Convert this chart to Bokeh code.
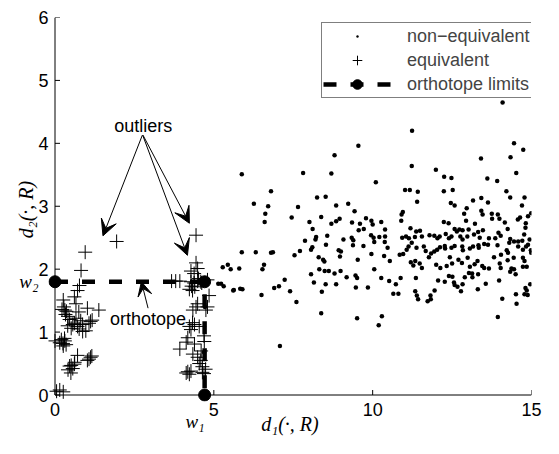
from bokeh.plotting import figure
from bokeh.models import (Range1d, FixedTicker, Label, Arrow, VeeHead, Legend, LegendItem, LinearAxis)
from bokeh.embed import file_html
from bokeh.resources import INLINE

# ---------------- data ----------------
w1 = 4.71
w2 = 1.80

noneq_high = [(14.09,4.65),(11.24,4.20),(9.55,3.96),(14.45,4.00),(14.74,3.90),(8.80,3.81),(13.41,3.76),(14.34,3.78),
    (11.23,3.64),(11.99,3.58),(5.88,3.51),(7.81,3.53),(8.70,3.52),(14.52,3.53),(12.25,3.47),(12.48,3.45),(13.61,3.44),
    (13.92,3.40),(10.10,3.38),(6.80,3.24),(11.02,3.26),(11.17,3.26),(11.42,3.23),(12.24,3.24),(12.52,3.26),(14.21,3.24),
    (8.25,3.14),(8.52,3.15),(14.33,3.14),(14.78,3.14),(13.42,3.13),(13.16,3.09),(13.63,3.06),(11.40,3.07),(12.46,3.05),
    (12.58,3.01),(14.70,3.01),(6.26,3.04),(6.71,3.00),(7.65,2.99),(8.85,3.01),(9.23,3.04)]

noneq_upper = [(9.43,2.92),(6.62,2.88),(6.60,2.75),(7.45,2.82),(8.38,2.83),(10.95,2.91),(10.91,2.87),(12.96,2.97),
    (12.88,2.88),(13.42,2.93),(13.46,2.87),(13.75,2.88),(13.94,2.87),(13.99,2.80),(14.99,2.89),(14.89,2.84),(8.96,2.80),
    (8.85,2.76),(8.70,2.72),(9.35,2.74),(9.60,2.72),(9.79,2.81),(9.96,2.77),(10.00,2.71),(10.27,2.75),(10.90,2.77),
    (12.24,2.75),(12.39,2.73),(12.94,2.77),(13.22,2.72),(13.76,2.80),(14.16,2.74),(14.57,2.79),(14.64,2.82),(14.82,2.73),
    (8.01,2.75),(8.11,2.64),(9.72,2.64),(9.56,2.62),(10.39,2.63),(11.19,2.65),(11.37,2.60),(11.49,2.61),(12.73,2.63),
    (12.58,2.64),(12.65,2.60),(12.83,2.62),(13.02,2.63),(13.47,2.62),(13.32,2.59),(14.25,2.64),(14.81,2.66),(13.96,2.58)]

noneq_mid = [(8.57,2.53),(8.22,2.51),(7.87,2.45),(9.08,2.47),(9.34,2.50),(9.39,2.46),(9.95,2.54),(10.03,2.50),
    (10.21,2.51),(10.39,2.52),(10.93,2.50),(11.05,2.52),(11.14,2.49),(11.33,2.51),(11.55,2.52),(11.79,2.54),(11.94,2.53),
    (12.04,2.49),(12.11,2.52),(12.30,2.56),(12.40,2.49),(12.48,2.52),(12.76,2.52),(12.83,2.47),(12.98,2.52),(13.19,2.55),
    (13.37,2.50),(13.66,2.49),(13.86,2.49),(14.03,2.53),(14.33,2.48),(14.45,2.44),(14.58,2.44),(14.71,2.45),(14.94,2.47),
    (14.77,2.55),(8.20,2.47)]

noneq_lower = [(8.10,2.35),(8.06,2.31),(8.53,2.39),(8.93,2.30),(9.00,2.28),(9.71,2.37),(9.38,2.38),(10.05,2.43),
    (10.38,2.43),(10.47,2.34),(10.36,2.21),(9.96,2.24),(8.97,2.20),(9.53,2.15),(11.13,2.36),(11.23,2.42),(11.07,2.31),
    (11.38,2.34),(11.61,2.36),(11.67,2.29),(11.84,2.25),(11.94,2.28),(12.03,2.31),(12.12,2.35),(12.27,2.37),(12.28,2.33),
    (12.48,2.34),(12.58,2.37),(12.82,2.36),(12.84,2.30),(13.06,2.33),(13.16,2.36),(13.33,2.38),(13.34,2.34),(13.51,2.40),
    (13.63,2.39),(13.93,2.38),(14.04,2.23),(14.22,2.30),(14.26,2.26),(14.30,2.42),(14.83,2.36),(14.89,2.39),(14.98,2.30),
    (14.99,2.26),(14.58,2.36),(14.73,2.31),(7.54,2.22),(7.71,2.29),(6.58,2.07),(6.53,2.00),(5.88,2.27),(6.32,2.27),
    (6.80,2.26),(6.86,2.27),(8.30,2.19),(8.44,2.15),(8.48,2.12),(10.54,2.13),(10.85,2.23),(10.96,2.24),(11.20,2.11),
    (11.34,2.13),(11.48,2.09),(11.77,2.19),(12.00,2.07),(12.13,2.02),(12.33,2.05),(12.43,2.19),(12.50,2.09),(12.70,2.15),
    (12.81,2.10),(12.99,2.18),(13.06,2.04),(13.21,2.08),(13.30,2.13),(13.45,2.05),(13.51,2.02),(13.66,2.01),(13.82,2.19),
    (14.00,2.09),(14.03,2.02),(14.25,2.14),(14.44,2.18),(14.73,2.18),(14.78,2.13),(14.85,2.04),(14.73,2.04),(14.37,2.01),
    (11.28,2.06)]

noneq_low = [(8.32,2.00),(8.06,1.92),(8.49,1.97),(8.62,1.97),(8.80,1.93),(8.99,1.97),(9.18,1.87),(9.46,1.90),
    (9.51,1.86),(10.05,2.00),(10.27,1.86),(10.52,1.81),(10.73,1.76),(10.88,1.86),(10.65,1.61),(10.81,1.61),(11.36,1.86),
    (11.55,2.02),(11.34,1.65),(11.39,1.58),(11.43,1.52),(11.73,1.49),(11.83,1.52),(11.82,1.58),(11.95,1.66),(12.06,1.82),
    (12.27,1.80),(12.40,1.89),(12.51,1.88),(12.56,1.79),(12.58,1.75),(12.67,1.72),(12.78,1.65),(12.83,1.76),(12.90,1.87),
    (13.03,1.94),(13.13,1.93),(13.14,1.87),(13.32,1.92),(13.56,1.77),(13.31,1.68),(13.98,1.82),(14.08,1.53),(13.94,1.24),
    (14.33,1.96),(14.45,2.00),(14.50,1.92),(14.96,1.76),(14.81,1.70),(14.85,1.66),(14.88,1.59),(14.78,1.60),(14.51,1.60),
    (14.53,1.45),(8.85,1.76),(8.52,1.76),(8.40,1.64),(8.15,1.79),(7.40,1.65),(7.60,1.48),(7.23,1.83),(7.05,1.73),
    (6.90,1.70),(6.50,1.59),(9.47,1.71),(9.85,1.71),(8.38,1.30),(9.51,1.22),(10.29,1.25),(10.19,1.11),(7.08,0.78),
    (5.63,1.67),(5.83,1.69),(5.90,1.68),(5.31,1.73),(5.23,1.77),(5.44,2.07),(5.53,2.00),(5.28,2.03),(5.80,2.01),
    (5.14,1.77),(5.61,1.66),(4.72,1.40),(4.69,0.68)]

eq_left = [(1.94,2.44),(0.95,2.27),(0.82,1.98),(0.77,1.74),(0.71,1.66),(0.61,1.56),(0.66,1.45),(0.26,1.51),
    (0.31,1.35),(0.36,1.33),(0.33,1.28),(1.02,1.38),(1.38,1.35),(0.61,1.14),(0.71,1.09),(0.87,1.12),(1.07,1.14),
    (1.12,1.17),(1.17,1.19),(0.87,1.01),(0.51,1.06),(0.56,1.12),(0.46,1.20),(0.41,1.25),(0.28,1.40),(0.20,0.88),
    (0.31,0.86),(0.26,0.78),(0.00,0.86),(0.25,0.82),(0.15,0.83),(0.30,0.90),(1.12,0.60),(1.02,0.55),(1.07,0.57),
    (0.71,0.63),(0.51,0.47),(0.56,0.42),(0.46,0.46),(0.61,0.49),(0.41,0.40),(0.50,0.35),(0.15,0.08),(0.26,0.05),
    (0.05,0.06),(0.76,1.05),(0.40,1.10),(0.22,1.36),(0.97,1.02),(0.81,1.18),(0.66,1.22),(0.75,1.32),(0.35,0.80),
    (1.16,0.62),(0.62,0.52)]

eq_right = [(4.44,2.54),(4.44,2.10),(4.49,2.01),(4.28,1.97),(4.38,1.93),(3.67,1.81),(3.80,1.81),(3.93,1.81),
    (4.28,1.80),(4.38,1.78),(4.49,1.81),(4.59,1.80),(4.23,1.68),(4.33,1.66),(4.85,1.58),(4.44,1.40),(4.49,1.45),
    (4.34,1.35),(4.30,1.73),(4.40,1.72),(4.62,1.78),(4.80,1.83),(4.23,1.09),(4.39,1.12),(4.54,1.09),(4.28,1.04),
    (4.33,1.15),(4.69,0.94),(4.18,0.91),(4.13,0.84),(3.93,0.73),(4.39,0.81),(4.34,0.65),(4.49,0.60),(4.59,0.55),
    (4.54,0.50),(4.64,0.45),(4.18,0.37),(4.13,0.35),(4.28,0.38),(4.23,0.33),(4.69,0.34),(4.74,0.41),(4.64,0.36),
    (4.80,1.40),(4.75,1.35),(4.70,0.85),(4.60,0.70),(4.52,1.85)]

x_ticks = [0, 5, 10, 15]
y_ticks = [0, 1, 2, 3, 4, 5, 6]
x_max = 15
y_max = 6

noneq = noneq_high + noneq_upper + noneq_mid + noneq_lower + noneq_low
eq = eq_left + eq_right
noneq_x = [q[0] for q in noneq]
noneq_y = [q[1] for q in noneq]
eq_x = [q[0] for q in eq]
eq_y = [q[1] for q in eq]

# ---------------- layout constants (pixels) ----------------
W, H = 543, 438
BL, BR, BT, BB = 48, 12, 17, 37      # frame borders
PAD = 6.5                            # room so that the limit markers on the axes are not clipped
SX = (W - BL - BR - PAD) / x_max     # px per x unit
SY = (H - BT - BB - PAD) / y_max     # px per y unit
TICK = 5

p = figure(width=W, height=H, output_backend="svg", toolbar_location=None,
           x_range=Range1d(-PAD / SX, x_max), y_range=Range1d(-PAD / SY, y_max),
           min_border_left=BL, min_border_right=BR, min_border_top=BT, min_border_bottom=BB)
p.outline_line_color = None
p.grid.visible = False
p.background_fill_color = "white"
p.border_fill_color = "white"

def style_axis(ax, font="Liberation Sans", size="18px", style="normal"):
    ax.axis_line_color = None
    ax.major_tick_line_color = None
    ax.minor_tick_line_color = None
    ax.major_tick_in = 0
    ax.major_tick_out = 0
    ax.major_label_text_font = font
    ax.major_label_text_font_size = size
    ax.major_label_text_font_style = style
    ax.major_label_text_color = "black"

xa = p.xaxis[0]
ya = p.yaxis[0]
xa.ticker = FixedTicker(ticks=x_ticks)
ya.ticker = FixedTicker(ticks=y_ticks)
style_axis(xa)
style_axis(ya)
xa.major_label_standoff = 1
ya.major_label_standoff = 0
for ax in (xa, ya):
    ax.axis_label_text_font = "Liberation Serif"
    ax.axis_label_text_font_style = "italic"
    ax.axis_label_text_font_size = "20px"
    ax.axis_label_text_color = "black"
xa.axis_label = "d\u2081(\u00b7, R)"
ya.axis_label = "d\u2082(\u00b7, R)"
xa.axis_label_standoff = -6
ya.axis_label_standoff = -2

# w1 / w2 limit labels as extra axes
w1_label_x = w1 - 0.3
w1_axis = LinearAxis(ticker=FixedTicker(ticks=[w1_label_x]), major_label_overrides={w1_label_x: "w\u2081"})
style_axis(w1_axis, font="Liberation Serif", size="19px", style="italic")
w1_axis.major_label_standoff = -27
p.add_layout(w1_axis, "below")
w2_axis = LinearAxis(ticker=FixedTicker(ticks=[w2]), major_label_overrides={w2: "w\u2082"})
style_axis(w2_axis, font="Liberation Serif", size="19px", style="italic")
w2_axis.major_label_standoff = -26
p.add_layout(w2_axis, "left")

# axis lines and inward ticks at the data origin
p.segment(x0=[0, 0], y0=[0, 0], x1=[x_max, 0], y1=[0, y_max], line_color="black", line_width=1)
p.segment(x0=x_ticks, y0=[0] * len(x_ticks), x1=x_ticks, y1=[TICK / SY] * len(x_ticks), line_color="black", line_width=1)
p.segment(x0=[0] * len(y_ticks), y0=y_ticks, x1=[TICK / SX] * len(y_ticks), y1=y_ticks, line_color="black", line_width=1)

r_dots = p.scatter(noneq_x, noneq_y, marker="dot", size=18, fill_color="black", line_color="black")
r_plus = p.scatter(eq_x, eq_y, marker="cross", size=14, line_color="black", line_width=1)
r_line = p.line([0, w1, w1], [w2, w2, 0], line_color="black", line_width=4.5, line_dash="13 14")
r_circ = p.scatter([0, w1, w1], [w2, w2, 0], marker="circle", size=12, fill_color="black", line_color="black")

legend = Legend(items=[LegendItem(label="non\u2212equivalent", renderers=[r_dots]),
                       LegendItem(label="equivalent", renderers=[r_plus]),
                       LegendItem(label="orthotope limits", renderers=[r_line, r_circ])],
                location=(273, 303), border_line_color="black", border_line_width=1,
                background_fill_color="white", background_fill_alpha=1.0,
                padding=1, spacing=0, margin=0, glyph_width=68, glyph_height=24,
                label_height=20, label_width=130, label_standoff=16,
                label_text_font="Liberation Sans", label_text_font_size="18px")
p.add_layout(legend)

txt = dict(text_font="Liberation Sans", text_font_size="18px", text_color="black",
           text_align="center", text_baseline="middle")
p.add_layout(Label(x=2.78, y=4.27, text="outliers", **txt))
p.add_layout(Label(x=2.93, y=1.21, text="orthotope", **txt))

for (xs, ys, xe, ye) in [(2.75, 4.13, 1.51, 2.53), (2.77, 4.13, 4.23, 2.73), (2.76, 4.13, 4.17, 2.22)]:
    p.add_layout(Arrow(x_start=xs, y_start=ys, x_end=xe, y_end=ye, line_width=1, line_color="black",
                       end=VeeHead(size=16, fill_color="black", line_color="black")))
p.add_layout(Arrow(x_start=2.93, y_start=1.38, x_end=2.72, y_end=1.80, line_width=1, line_color="black",
                   end=VeeHead(size=14, fill_color="black", line_color="black")))

open("out.html", "w").write(file_html(p, INLINE))
